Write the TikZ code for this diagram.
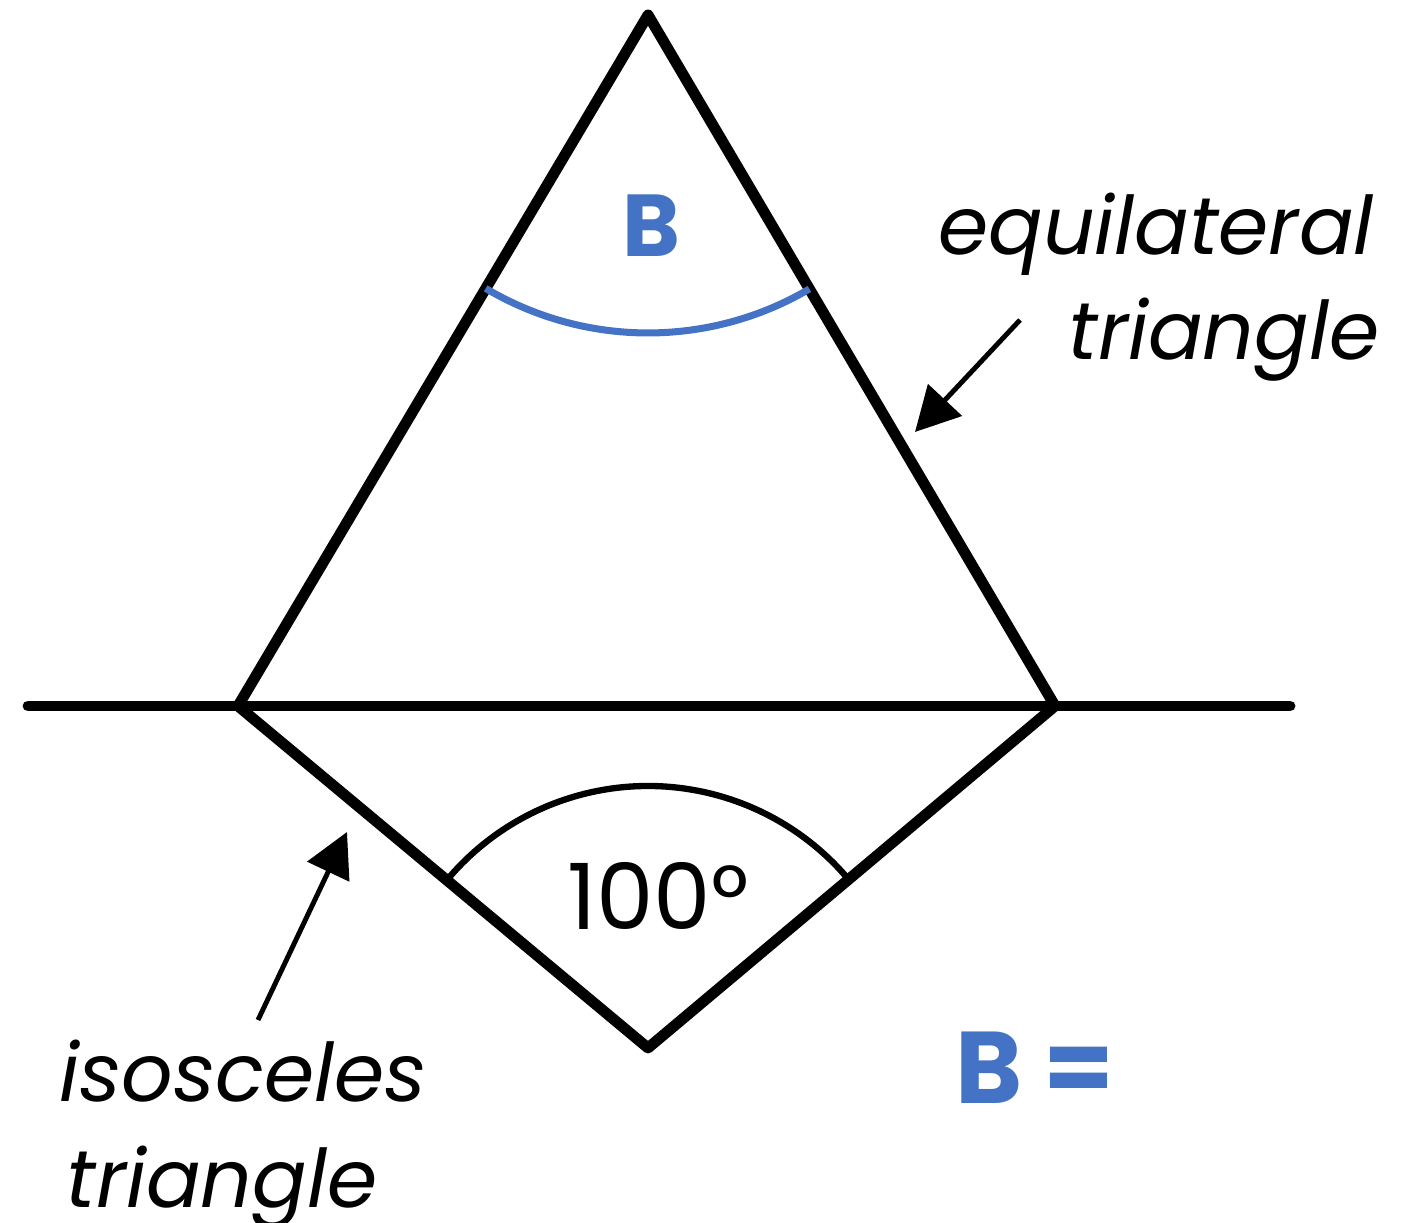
\documentclass[tikz,border=0pt]{standalone}
\usepackage{fontspec}
\setmainfont{Poppins}
\usepackage{tikz}
\usetikzlibrary{positioning}
\usetikzlibrary{arrows.meta}
\usetikzlibrary{calc}
\definecolor{angblue}{RGB}{68,114,196}

\begin{document}
\begin{tikzpicture}[
    side/.style={line width=3.1pt, line cap=round, line join=round},
    pointer/.style={line width=1.4pt, -{Triangle[length=12.5pt, width=13pt]}},
    label/.style={font=\fontsize{23}{27}\selectfont\itshape, inner sep=0pt, anchor=base},
    angtext/.style={font=\fontsize{26}{30}\selectfont, inner sep=0pt, anchor=base}
  ]

\useasboundingbox (0,0) rectangle (14.07,12.22);

%---------------------------------------
% Vertices
%---------------------------------------
\coordinate (A) at (6.48,12.07);   % top
\coordinate (L) at (2.38,5.16);    % left
\coordinate (R) at (10.55,5.16);   % right
\coordinate (D) at (6.48,1.74);    % bottom
\coordinate (lineW) at (0.28,5.16);
\coordinate (lineE) at (12.90,5.16);

% Line and the two triangles
\draw[side] (lineW) -- (lineE);
\draw[side] (L) -- (A) -- (R);
\draw[side] (L) -- (D) -- (R);

% Angle marks
\draw[angblue, line width=2pt] ($(A)+(239.3:3.18)$) arc (239.3:300.5:3.18);
\draw[line width=1.8pt] ($(D)+(40:2.62)$) arc (40:140.2:2.62);

% Angle labels
\node[angtext, angblue, font=\fontsize{25}{30}\selectfont\bfseries] (angB) at (6.51,9.65) {B};
\node[angtext] (ang100) at (6.58,2.92) {100°};

%---------------------------------------
% Labels and arrows
%---------------------------------------
\node[label] (eqA) at (11.56,9.67) {equilateral};
\node[label] (eqB) at (12.24,8.62) {triangle};
\node[label] (isoA) at (2.43,1.20) {isosceles};
\node[label] (isoB) at (2.22,0.15) {triangle};

\coordinate (eqtail) at (10.20,9.02);
\coordinate (eqtip) at (9.15,7.90);
\coordinate (isotail) at (2.58,2.02);
\coordinate (isotip) at (3.47,3.90);
\draw[pointer] (eqtail) -- (eqtip);
\draw[pointer] (isotail) -- (isotip);

% Answer
\node[angtext, angblue, font=\fontsize{29}{34}\selectfont\bfseries] (answer) at (10.35,1.18) {B =};

\end{tikzpicture}
\end{document}
